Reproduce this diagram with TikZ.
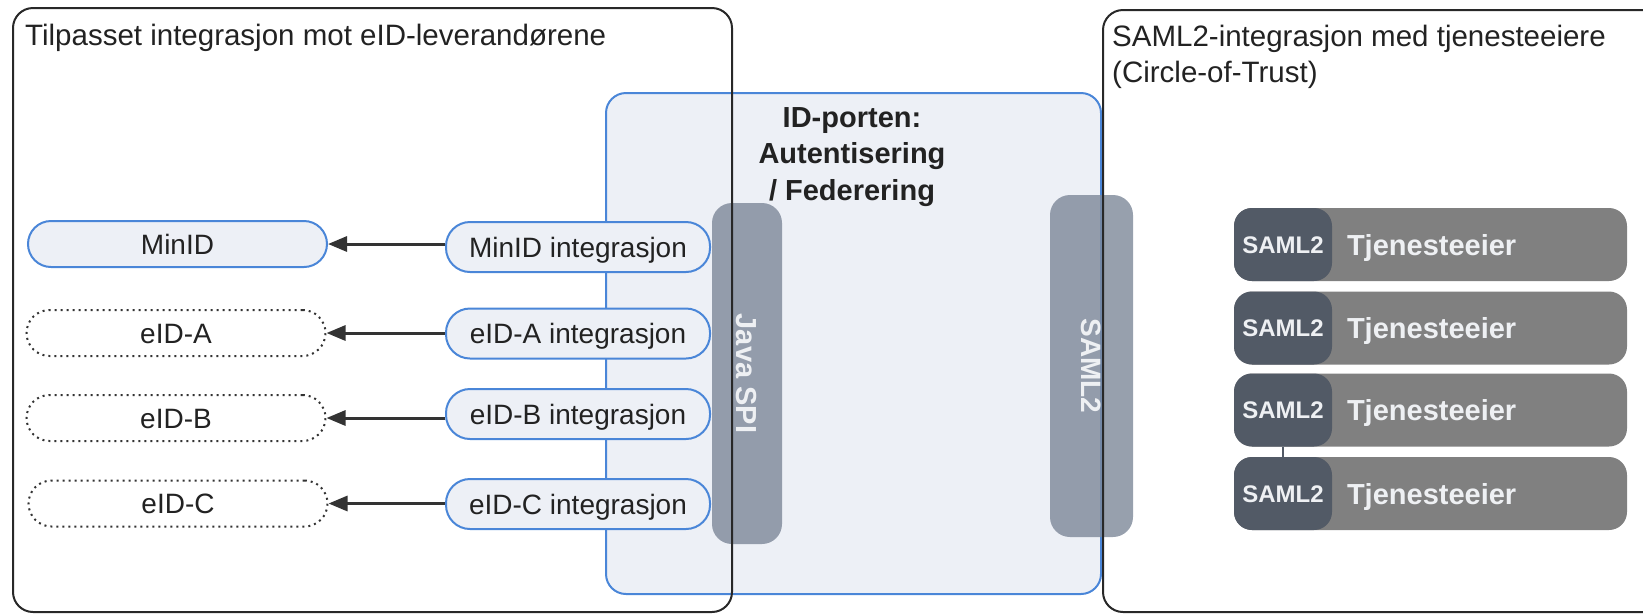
\documentclass[tikz,border=0pt]{standalone}
\usepackage{fontspec}
\setmainfont{Liberation Sans}
\usetikzlibrary{arrows.meta}
\definecolor{bluefill}{RGB}{237,240,246}
\definecolor{blueline}{RGB}{74,134,216}
\definecolor{colfill}{RGB}{125,136,153}
\definecolor{tegrey}{RGB}{128,128,128}
\definecolor{samldark}{RGB}{82,90,102}
\definecolor{txt}{RGB}{34,34,34}
\definecolor{framec}{RGB}{40,40,40}
\definecolor{lighttxt}{RGB}{238,240,243}
\begin{document}
\begin{tikzpicture}[x=1pt,y=-1pt,
  frame/.style={draw=framec, line width=2pt, rounded corners=20pt},
  bigblue/.style={draw=blueline, fill=bluefill, line width=2pt, rounded corners=20pt},
  titletxt/.style={font=\fontsize{29.5}{36}\selectfont, text=txt, inner sep=0pt},
  idtitle/.style={font=\fontsize{29}{36.5}\selectfont\bfseries, text=txt, inner sep=0pt, align=center},
  nodetxt/.style={font=\fontsize{28}{34}\selectfont, text=txt, text height=20pt, text depth=-2pt, inner sep=0pt},
  integ/.style={nodetxt, draw=blueline, fill=bluefill, line width=2pt, rounded corners=24pt,
    minimum width=264pt, minimum height=50pt},
  prov/.style={nodetxt, line width=2pt, rounded corners=23pt, minimum width=299pt, minimum height=46pt},
  provmin/.style={prov, draw=blueline, fill=bluefill},
  provdot/.style={prov, draw=black!80, fill=white, dash pattern=on 2pt off 4pt},
  arr/.style={draw=black!80, line width=3pt, -{Triangle[length=19pt,width=15pt]}},
  colbox/.style={fill=colfill, fill opacity=0.8, text opacity=1, rounded corners=20pt, rotate=-90,
    text=lighttxt, inner sep=0pt, text height=21pt, text depth=0pt},
  tebox/.style={fill=tegrey, rounded corners=18pt, minimum width=393pt, minimum height=73pt,
    text width=385pt, inner xsep=4pt, inner ysep=0pt, align=left, text=lighttxt,
    font=\fontsize{29}{34}\selectfont\bfseries, text height=21pt, text depth=0pt},
  sdark/.style={fill=samldark, rounded corners=18pt, minimum width=98pt, minimum height=73pt,
    inner sep=0pt, text=lighttxt, font=\fontsize{24}{28}\selectfont\bfseries, text height=17pt, text depth=0pt},
  conn/.style={draw=samldark, line width=2pt}
]
\useasboundingbox (0,0) rectangle (1643,614);

% ID-porten box
\draw[bigblue] (606,93) rectangle (1101,594);
\node[idtitle, anchor=north] (idt) at (852,107) {ID-porten:\\Autentisering\\/ Federering};

% eID providers
\node[provmin] (m) at (177.5,244) {MinID};
\node[provdot] (a) at (176,333) {eID-A};
\node[provdot] (b) at (176,418) {eID-B};
\node[provdot] (c) at (178,503.5) {eID-C};

% integrations
\node[integ] (mi) at (578,247) {MinID integrasjon};
\node[integ] (ai) at (578,333.5) {eID-A integrasjon};
\node[integ] (bi) at (578,414) {eID-B integrasjon};
\node[integ] (ci) at (578,504) {eID-C integrasjon};

\draw[arr] (m.east -| mi.west) -- (m.east);
\draw[arr] (a.east -| ai.west) -- (a.east);
\draw[arr] (b.east -| bi.west) -- (b.east);
\draw[arr] (c.east -| ci.west) -- (c.east);

% columns
\node[colbox, minimum width=341pt, minimum height=70pt, font=\fontsize{29}{34}\selectfont\bfseries] (jspi) at (747,373.5) {Java SPI};
\node[colbox, minimum width=342pt, minimum height=83pt, font=\fontsize{28}{34}\selectfont\bfseries] (saml) at (1091.5,366) {SAML2};

% service owners
\node[tebox] (t1) at (1430.5,244.5) {\hspace*{109pt}Tjenesteeier};
\node[tebox] (t2) at (1430.5,328) {\hspace*{109pt}Tjenesteeier};
\node[tebox] (t3) at (1430.5,410) {\hspace*{109pt}Tjenesteeier};
\node[tebox] (t4) at (1430.5,493.5) {\hspace*{109pt}Tjenesteeier};
\node[sdark] (s1) at (1283,244.5) {SAML2};
\node[sdark] (s2) at (1283,328) {SAML2};
\node[sdark] (s3) at (1283,410) {SAML2};
\node[sdark] (s4) at (1283,493.5) {SAML2};
\draw[conn] (s3.south) -- (s4.north);

% frames
\draw[frame] (13,8) rectangle (732,612);
\draw[frame] (1103,10) rectangle (1720,612);

% titles
\node[titletxt, anchor=base west] (lt) at (25,45) {Tilpasset integrasjon mot eID-leverandørene};
\node[titletxt, anchor=north west, align=left] (rt) at (1112,24.5) {SAML2-integrasjon med tjenesteeiere\\(Circle-of-Trust)};
\end{tikzpicture}
\end{document}
